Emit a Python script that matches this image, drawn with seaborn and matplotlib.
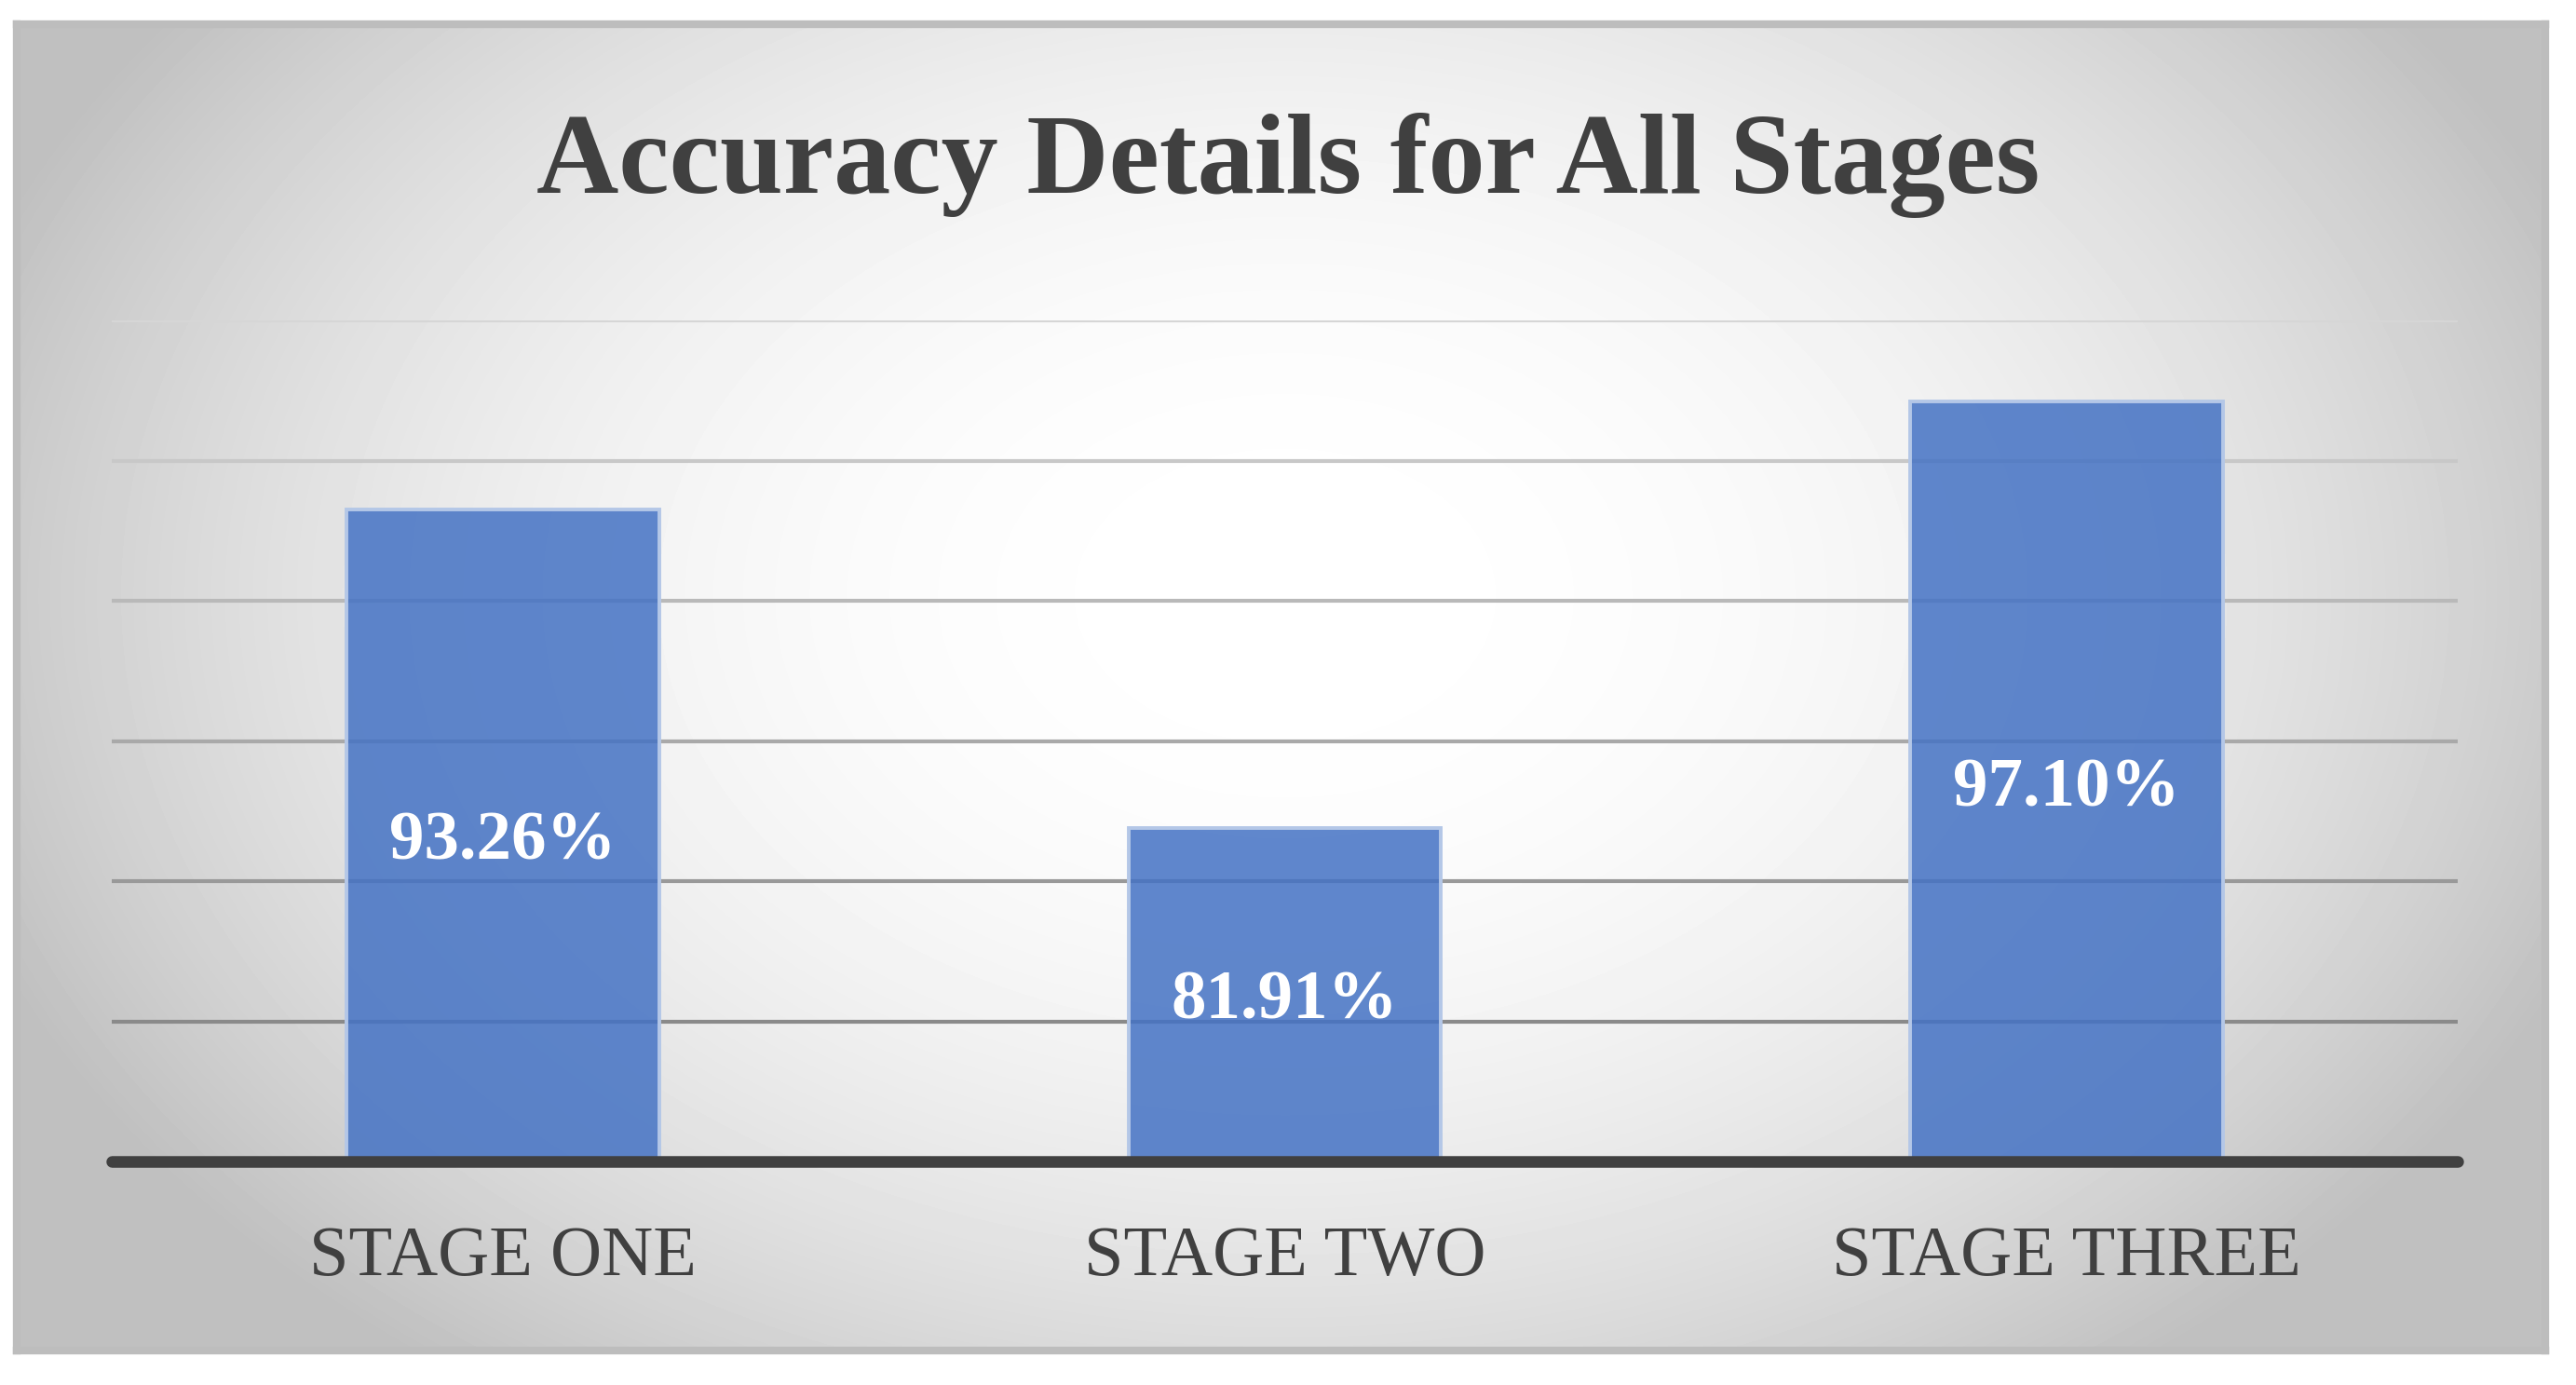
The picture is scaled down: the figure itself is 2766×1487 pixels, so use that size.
import numpy as np
import pandas as pd
import matplotlib.pyplot as plt
import seaborn as sns

# Data
stages = ["STAGE ONE", "STAGE TWO", "STAGE THREE"]
accuracy = [93.26, 81.91, 97.10]
y_ticks = [70, 75, 80, 85, 90, 95, 100]

df = pd.DataFrame({"stage": stages, "accuracy": accuracy})

sns.set_theme(style="white")
plt.rcParams["font.family"] = ["Liberation Serif", "DejaVu Serif"]

W, H, DPI = 2766, 1487, 200
fig = plt.figure(figsize=(W / DPI, H / DPI), dpi=DPI, facecolor="white")

# Framed background with a radial grey gradient
x0, x1, y0, y1 = 18, 2733, 26, 1450
bg = fig.add_axes([x0 / W, 1 - y1 / H, (x1 - x0) / W, (y1 - y0) / H])
gx, gy = np.meshgrid(np.linspace(x0, x1, 600), np.linspace(y0, y1, 320))
t = np.sqrt(((gx - 1380) / 1500) ** 2 + ((gy - 640) / 1050) ** 2)
shade = 1 - 0.25 * np.clip(t, 0, 1.0) ** 2.2
bg.imshow(shade, cmap="gray", vmin=0, vmax=1, aspect="auto", interpolation="bilinear")
bg.set_xticks([])
bg.set_yticks([])
for s in bg.spines.values():
    s.set_color("#bdbdbd")
    s.set_linewidth(3)

# Main chart
ax = fig.add_axes([120 / W, 1 - 1247 / H, (2639 - 120) / W, (1247 - 344) / H])
ax.set_facecolor("none")
ax.set_zorder(2)

grid_colors = ["#404040", "#8a8a8a", "#999999", "#a9a9a9", "#b9b9b9", "#c8c8c8", "#d6d6d6"]
for yv, c in zip(y_ticks[1:], grid_colors[1:]):
    ax.axhline(yv, color=c, lw=1.5, zorder=0)

sns.barplot(data=df, x="stage", y="accuracy", width=0.4, ax=ax, zorder=2)
for p in ax.patches:
    p.set_facecolor((0.267, 0.447, 0.769, 0.85))
    p.set_edgecolor("#b4c7e7")
    p.set_linewidth(1.4)

ax.axhline(y_ticks[0], color="#404040", lw=4.5, zorder=3, clip_on=False)
ax.set_ylim(y_ticks[0], y_ticks[-1])
ax.set_xlim(-0.5, len(stages) - 0.5)
ax.set_yticks([])
ax.set_xlabel("")
ax.set_ylabel("")
for s in ax.spines.values():
    s.set_visible(False)
ax.tick_params(axis="x", length=0, pad=25, labelsize=27.5, labelcolor="#404040")

for i, v in enumerate(accuracy):
    ax.text(i, (y_ticks[0] + v) / 2, f"{v:.2f}%", ha="center", va="center_baseline",
            color="white", fontsize=27, fontweight="bold", zorder=4)

fig.text(0.5, 1 - 207 / H, "Accuracy Details for All Stages", ha="center", va="baseline",
         fontsize=44, fontweight="bold", color="#404040")

fig.savefig("out.png", dpi=DPI, facecolor="white")
